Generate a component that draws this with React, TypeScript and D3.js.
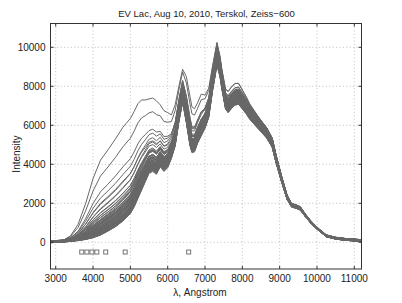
import React from "react";
import * as d3 from "d3";

const W = 402;
const H = 303;

// wavelength grid (Angstrom)
const WAVE = [2860, 3000, 3200, 3400, 3600, 3800, 4000, 4200, 4400, 4600, 4800, 5000, 5100, 5200, 5300, 5400, 5500, 5600, 5700, 5800, 5900, 6000, 6100, 6200, 6300, 6400, 6500, 6600, 6650, 6720, 6800, 6900, 7000, 7100, 7200, 7320, 7400, 7450, 7550, 7620, 7700, 7800, 7900, 8000, 8100, 8200, 8400, 8650, 8800, 8900, 9050, 9200, 9320, 9450, 9550, 9700, 9850, 10000, 10250, 10500, 10750, 11000, 11193];
// quiescent spectrum (band centre)
const QUIET = [30, 40, 55, 90, 125, 180, 270, 410, 620, 850, 1150, 1550, 1900, 2350, 2800, 3250, 3700, 3800, 3650, 4050, 3800, 4000, 4500, 5150, 6450, 7500, 6400, 5150, 4800, 4850, 5300, 5700, 6100, 6700, 8100, 9500, 8900, 8250, 7150, 6950, 7150, 7350, 7400, 7150, 6900, 6600, 6150, 5600, 5100, 4300, 3250, 2300, 1900, 1820, 1740, 1350, 1000, 720, 330, 210, 150, 115, 85];
// flare excess of the brightest spectrum
const FLARE = [0, 0, 40, 250, 800, 1800, 3000, 3800, 4120, 4450, 4750, 4800, 4800, 4750, 4500, 4050, 3650, 3600, 3600, 3000, 2950, 2650, 2030, 1900, 1550, 1370, 2100, 2300, 2150, 2000, 1850, 1900, 1450, 1200, 900, 700, 600, 600, 700, 800, 800, 800, 750, 650, 550, 450, 300, 150, 80, 40, 0, 0, 0, 0, 0, 0, 0, 0, 0, 0, 0, 0, 0];

// per-spectrum flare amplitude, scale and offset
const AMPS = [
  1.0, 0.78, 0.58, 0.48, 0.43, 0.39, 0.36, 0.33, 0.3, 0.28,
  0.26, 0.245, 0.23, 0.22, 0.21, 0.2, 0.19, 0.18, 0.17, 0.165,
  0.16, 0.155, 0.15, 0.145, 0.14, 0.135, 0.13, 0.125, 0.12, 0.115,
  0.11, 0.105, 0.1, 0.097, 0.094, 0.09, 0.087, 0.084, 0.08, 0.077,
  0.074, 0.07, 0.067, 0.064, 0.06, 0.057, 0.054, 0.05, 0.047, 0.044,
  0.04, 0.038, 0.036, 0.034, 0.032, 0.03, 0.028, 0.026, 0.024, 0.022,
  0.02, 0.018, 0.016, 0.014, 0.012, 0.011, 0.01, 0.009, 0.008, 0.007,
  0.006, 0.005, 0.004, 0.003, 0.002, 0.001, 0.0, 0.0, 0.0, 0.0,
];
const SCALES = [
  1.0, 1.02, 0.98, 1.01, 0.97, 1.03, 0.99, 1.04, 0.96, 1.0,
  1.015, 0.985, 1.035, 0.965, 1.045, 0.955, 1.005, 0.995, 1.025, 0.975,
  1.01, 0.95, 1.05, 0.99, 1.02, 0.97, 1.04, 0.96, 1.03, 0.98,
  1.005, 0.955, 1.045, 0.985, 1.015, 0.965, 1.035, 0.975, 1.025, 0.995,
  1.0, 1.03, 0.97, 1.01, 0.96, 1.04, 0.98, 1.02, 0.99, 1.05,
  0.95, 1.015, 0.985, 1.035, 0.965, 1.005, 0.995, 1.045, 0.955, 1.025,
  0.975, 1.01, 0.99, 1.03, 0.97, 1.02, 0.98, 1.04, 0.96, 1.0,
  1.012, 0.988, 1.032, 0.968, 1.022, 0.978, 1.042, 0.958, 1.002, 0.998,
];
const OFFSETS = [
  0, 15, -15, 30, -30, 45, -45, 8, -8, 22,
  -22, 38, -38, 50, -50, 3, -3, 18, -18, 33,
  -33, 48, -48, 12, -12, 27, -27, 42, -42, 5,
  -5, 20, -20, 35, -35, 10, -10, 25, -25, 40,
  -40, 0, 15, -15, 30, -30, 45, -45, 8, -8,
  22, -22, 38, -38, 50, -50, 3, -3, 18, -18,
  33, -33, 48, -48, 12, -12, 27, -27, 42, -42,
  5, -5, 20, -20, 35, -35, 10, -10, 25, -25,
];

// Balmer line markers
const MARK_WAVE = [3697, 3835, 3970, 4102, 4340, 4861, 6563];
const MARK_LEVEL = -500;

const X_TICKS = [3000, 4000, 5000, 6000, 7000, 8000, 9000, 10000, 11000];
const Y_TICKS = [0, 2000, 4000, 6000, 8000, 10000];

const TITLE = "EV Lac, Aug 10, 2010, Terskol, Zeiss\u2212600";
const XLABEL = "\u03bb, Angstrom";
const YLABEL = "Intensity";

const M = { left: 50.5, right: 361.5, top: 23.5, bottom: 269 };
const FONT = "'Liberation Sans', Arial, Helvetica, sans-serif";

export default function App() {
  const x = d3.scaleLinear().domain([2860, 11193]).range([M.left, M.right]);
  const y = d3.scaleLinear().domain([-1370, 11220]).range([M.bottom, M.top]);

  const line = d3
    .line<[number, number]>()
    .x((d) => x(d[0]))
    .y((d) => y(d[1]));

  const curves = AMPS.map((a, i) =>
    WAVE.map((w, k) => [w, SCALES[i] * QUIET[k] + a * FLARE[k] + OFFSETS[i]] as [number, number])
  );

  return (
    <svg
      width={W}
      height={H}
      style={{ position: "absolute", left: 0, top: 0, background: "#fff" }}
      fontFamily={FONT}
    >
      <rect x={0} y={0} width={W} height={H} fill="#fff" />
      <defs>
        <clipPath id="plot">
          <rect x={M.left} y={M.top} width={M.right - M.left} height={M.bottom - M.top} />
        </clipPath>
      </defs>
      {/* grid */}
      <g stroke="#b0b0b0" strokeWidth={0.8} strokeDasharray="1,2.4">
        {X_TICKS.map((t) => (
          <line key={"gx" + t} x1={x(t)} x2={x(t)} y1={M.top} y2={M.bottom} />
        ))}
        {Y_TICKS.map((t) => (
          <line key={"gy" + t} x1={M.left} x2={M.right} y1={y(t)} y2={y(t)} />
        ))}
      </g>
      {/* spectra */}
      <g clipPath="url(#plot)" fill="none" stroke="#686868" strokeWidth={1}>
        {curves.map((c, i) => (
          <path key={i} d={line(c) || ""} />
        ))}
      </g>
      {/* markers */}
      <g fill="none" stroke="#666" strokeWidth={0.9}>
        {MARK_WAVE.map((w) => (
          <rect key={w} x={x(w) - 2} y={y(MARK_LEVEL) - 2} width={4} height={4} />
        ))}
      </g>
      {/* axes box + ticks */}
      <g stroke="#333" strokeWidth={1} fill="none">
        <rect x={M.left} y={M.top} width={M.right - M.left} height={M.bottom - M.top} />
        {X_TICKS.map((t) => (
          <g key={"tx" + t}>
            <line x1={x(t)} x2={x(t)} y1={M.bottom} y2={M.bottom - 3} />
            <line x1={x(t)} x2={x(t)} y1={M.top} y2={M.top + 3} />
          </g>
        ))}
        {Y_TICKS.map((t) => (
          <g key={"ty" + t}>
            <line x1={M.left} x2={M.left + 3} y1={y(t)} y2={y(t)} />
            <line x1={M.right} x2={M.right - 3} y1={y(t)} y2={y(t)} />
          </g>
        ))}
      </g>
      {/* tick labels */}
      <g fontSize={10} fill="#222">
        {X_TICKS.map((t) => (
          <text key={"lx" + t} x={x(t)} y={282} textAnchor="middle">
            {t}
          </text>
        ))}
        {Y_TICKS.map((t) => (
          <text key={"ly" + t} x={45.5} y={y(t)} dy="0.35em" textAnchor="end">
            {t}
          </text>
        ))}
      </g>
      <text x={206.5} y={17} fontSize={9.5} textAnchor="middle" fill="#222">
        {TITLE}
      </text>
      <text x={200} y={296} fontSize={10} textAnchor="middle" fill="#222">
        {XLABEL}
      </text>
      <text
        transform={`translate(20,154) rotate(-90)`}
        fontSize={10}
        textAnchor="middle"
        fill="#222"
      >
        {YLABEL}
      </text>
    </svg>
  );
}
